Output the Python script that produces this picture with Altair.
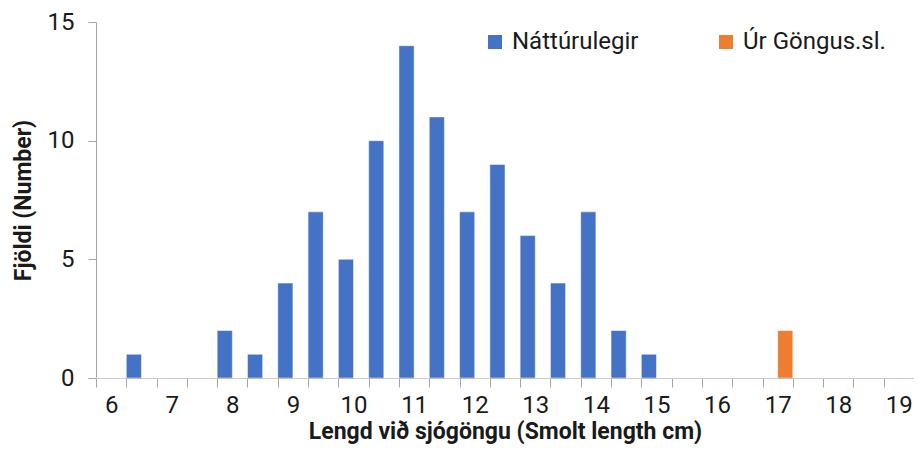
import altair as alt
import pandas as pd

categories = ["6", "6.5", "7", "7.5", "8", "8.5", "9", "9.5", "10", "10.5", "11", "11.5",
              "12", "12.5", "13", "13.5", "14", "14.5", "15", "15.5", "16", "16.5", "17",
              "17.5", "18", "18.5", "19"]
natturulegir = [0, 1, 0, 0, 2, 1, 4, 7, 5, 10, 14, 11, 7, 9, 6, 4, 7, 2, 1, 0, 0, 0, 0, 0, 0, 0, 0]
ur_gongus = [0, 0, 0, 0, 0, 0, 0, 0, 0, 0, 0, 0, 0, 0, 0, 0, 0, 0, 0, 0, 0, 0, 2, 0, 0, 0, 0]
series_names = ["Náttúrulegir", "Úr Göngus.sl."]
colors = ["#4472C4", "#ED7D31"]

rows = []
for c, a, b in zip(categories, natturulegir, ur_gongus):
    rows.append({"len": c, "series": series_names[0], "n": a})
    rows.append({"len": c, "series": series_names[1], "n": b})
df = pd.DataFrame(rows)

FONT = "Roboto"
AXIS_GRAY = "#A6A6A6"
TEXT = "#1a1a1a"

chart = alt.Chart(df).mark_bar(stroke="white", strokeWidth=0.5).encode(
    x=alt.X("len:N", sort=categories,
            scale=alt.Scale(domain=categories, paddingInner=0, paddingOuter=0),
            axis=alt.Axis(title="Lengd við sjógöngu (Smolt length cm)", labelAngle=0,
                          labelExpr="floor(toNumber(datum.value)) == toNumber(datum.value) ? datum.label : ''",
                          tickBand="extent", tickSize=9, tickColor=AXIS_GRAY, domainColor=AXIS_GRAY,
                          labelFontSize=24, labelColor=TEXT, labelPadding=6,
                          titleFontSize=23, titleFontWeight="bold", titleColor=TEXT, titlePadding=3,
                          labelFont=FONT, titleFont=FONT, grid=False)),
    xOffset=alt.XOffset("series:N", sort=series_names,
                        scale=alt.Scale(domain=series_names, paddingInner=0, paddingOuter=0)),
    y=alt.Y("n:Q", scale=alt.Scale(domain=[0, 15], nice=False),
            axis=alt.Axis(title="Fjöldi (Number)", values=[0, 5, 10, 15], tickSize=8,
                          tickColor=AXIS_GRAY, domainColor=AXIS_GRAY, grid=False,
                          labelFontSize=24, labelColor=TEXT, labelPadding=14,
                          titleFontSize=23, titleFontWeight="bold", titleColor=TEXT, titlePadding=12,
                          labelFont=FONT, titleFont=FONT)),
    color=alt.Color("series:N", sort=series_names,
                    scale=alt.Scale(domain=series_names, range=colors),
                    legend=alt.Legend(title=None, orient="none", legendX=387, legendY=8,
                                      direction="horizontal", symbolType="square",
                                      symbolSize=196, symbolStrokeWidth=0, labelFontSize=24,
                                      labelFont=FONT, labelColor=TEXT, columnPadding=75,
                                      labelOffset=5)),
).properties(
    width=818, height=356,
    autosize=alt.AutoSizeParams(type="none"),
    padding={"left": 88, "top": 14, "right": 0, "bottom": 66},
).configure_view(stroke=None)

chart.save("out.html", embed_options={"renderer": "svg", "actions": False})
